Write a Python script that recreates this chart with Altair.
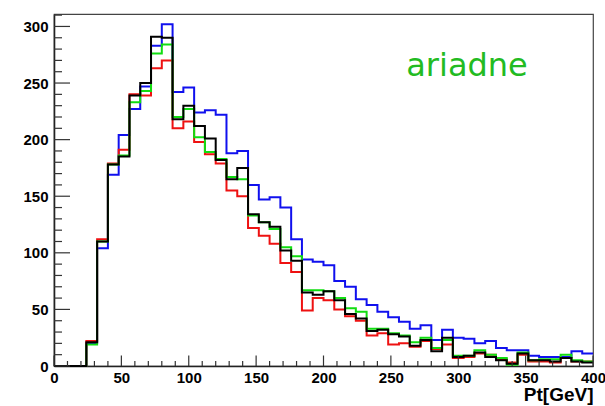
import altair as alt
import pandas as pd

# bin edges in GeV (8 GeV bins from 0 to 400)
edges = list(range(0, 408, 8))

blue = [0, 0, 0, 20, 104, 169, 204, 227, 247, 283, 302, 242, 246, 224, 226, 222, 188, 190, 160, 147,
        149, 140, 112, 94, 92, 89, 75, 70, 59, 54, 48, 43, 39, 33, 36, 23, 32, 25, 24, 20,
        22, 16, 14, 14, 9, 8, 8, 8, 13, 11]
red = [0, 0, 0, 22, 112, 179, 191, 240, 239, 263, 270, 210, 216, 198, 187, 179, 155, 150, 122, 115,
       108, 91, 83, 49, 60, 58, 50, 44, 40, 27, 29, 19, 20, 17, 22, 15, 19, 7, 8, 11,
       10, 6, 3, 10, 4, 4, 3, 7, 4, 4]
green = [0, 0, 0, 19, 110, 178, 186, 233, 243, 276, 284, 220, 227, 202, 189, 183, 167, 165, 133, 127,
         121, 105, 97, 67, 67, 66, 60, 51, 48, 33, 33, 29, 27, 21, 25, 16, 23, 9, 9, 14,
         10, 7, 1, 12, 5, 6, 6, 10, 5, 4]
black = [0, 0, 0, 21, 110, 178, 185, 239, 250, 291, 290, 218, 230, 212, 201, 182, 165, 175, 134, 127,
         123, 102, 93, 65, 63, 66, 58, 46, 42, 31, 32, 28, 26, 18, 23, 13, 25, 8, 9, 12,
         8, 5, 2, 11, 5, 5, 4, 7, 4, 3]

x_labels = list(range(0, 401, 50))
y_labels = list(range(0, 301, 50))
x_minor = [v for v in range(0, 401, 10) if v % 50 != 0]
x_major = x_labels
y_minor = [v for v in range(0, 311, 10) if v % 50 != 0]
y_major = y_labels

W, H = 539, 352
XMAX, YMAX = 400, 311

xscale = alt.Scale(domain=[0, XMAX], nice=False, zero=False)
yscale = alt.Scale(domain=[0, YMAX], nice=False)

FONT = "Liberation Sans"


def series(vals, color):
    df = pd.DataFrame({"pt": edges, "n": vals + [vals[-1]]})
    return alt.Chart(df).mark_line(interpolate="step-after", strokeWidth=2, color=color).encode(
        x=alt.X("pt:Q", scale=xscale,
                axis=alt.Axis(values=x_labels, ticks=False, grid=False, labelFlush=False,
                              labelFont=FONT, labelFontSize=15, labelFontWeight="bold",
                              labelColor="black", labelPadding=4,
                              domainColor="#222", domainWidth=1.6,
                              title="Pt[GeV]", titleFont=FONT, titleFontSize=19,
                              titleFontWeight="bold", titleColor="black",
                              titleAnchor="end", titlePadding=0)),
        y=alt.Y("n:Q", scale=yscale,
                axis=alt.Axis(values=y_labels, ticks=False, grid=False,
                              labelFont=FONT, labelFontSize=15, labelFontWeight="bold",
                              labelColor="black", labelPadding=6,
                              domainColor="#222", domainWidth=1.6, title=None)),
    )


yt_major = alt.Chart(pd.DataFrame({"v": y_major})).mark_rule(color="#333", strokeWidth=1.2).encode(
    y=alt.Y("v:Q", scale=yscale), x=alt.value(0), x2=alt.value(16))
yt_minor = alt.Chart(pd.DataFrame({"v": y_minor})).mark_rule(color="#333", strokeWidth=1.2).encode(
    y=alt.Y("v:Q", scale=yscale), x=alt.value(0), x2=alt.value(8))
xt_major = alt.Chart(pd.DataFrame({"v": x_major})).mark_rule(color="#333", strokeWidth=1.2).encode(
    x=alt.X("v:Q", scale=xscale), y=alt.value(H), y2=alt.value(H - 10.5))
xt_minor = alt.Chart(pd.DataFrame({"v": x_minor})).mark_rule(color="#333", strokeWidth=1.2).encode(
    x=alt.X("v:Q", scale=xscale), y=alt.value(H), y2=alt.value(H - 5))

label = alt.Chart(pd.DataFrame({"t": ["ariadne"]})).mark_text(
    font="DejaVu Sans", fontSize=32, color="#22bb22", align="center", baseline="middle"
).encode(text="t:N", x=alt.value(413), y=alt.value(52))

chart = alt.layer(
    series(blue, "#1010ee"),
    series(red, "#ee1111"),
    series(green, "#11dd11"),
    series(black, "#000000"),
    yt_major, yt_minor, xt_major, xt_minor, label,
).properties(
    width=W, height=H,
    padding={"left": 54, "top": 14, "right": 12, "bottom": 40},
    autosize=alt.AutoSizeParams(type="none"),
    background="white",
).configure_view(stroke="#444", strokeWidth=1.2)

chart.save("out.html", embed_options={"renderer": "svg", "actions": False})
